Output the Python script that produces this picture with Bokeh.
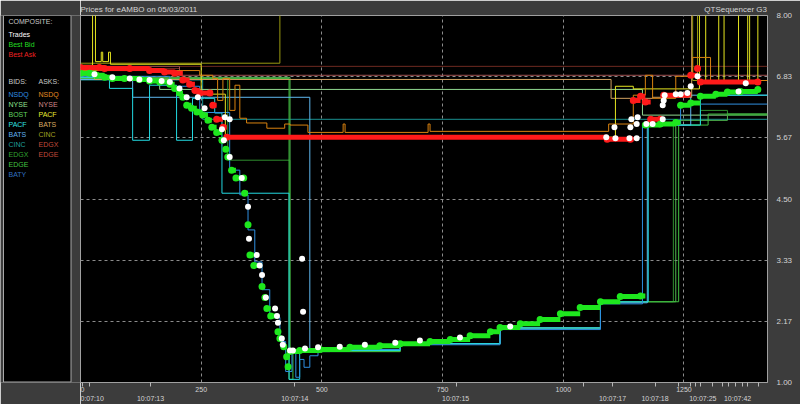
from bokeh.plotting import figure
from bokeh.layouts import row
from bokeh.models import Range1d, FixedTicker, LinearAxis, PrintfTickFormatter
from bokeh.core.properties import value
from bokeh.embed import file_html
from bokeh.resources import INLINE

BG = "#3c3c3c"
FONT = "Liberation Sans"
TXT = "#d4d4d4"

# ---------------- data (x = quote index, y = price) ----------------
bid_x = [0, 19, 33, 50, 66, 91, 122, 143, 164, 185, 195, 205, 212, 220, 230, 241, 253, 264, 272, 282,
         293, 301, 305, 313, 322, 338, 340, 347, 351, 359, 376, 382, 386, 394, 409, 413, 421, 427, 430, 434,
         454, 496, 558, 620, 662, 724, 766, 807, 849, 869, 911, 952, 994, 1035, 1077, 1118, 1160, 1170, 1201, 1233,
         1243, 1264, 1284, 1316, 1340, 1367, 1403]
bid_y = [6.90, 6.90, 6.86, 6.82, 6.80, 6.80, 6.78, 6.75, 6.73, 6.69, 6.61, 6.52, 6.44, 6.29, 6.23, 6.16, 6.10, 6.00, 5.87, 5.77,
         5.62, 5.45, 5.30, 5.05, 4.90, 4.90, 4.61, 4.01, 3.43, 3.23, 2.83, 2.62, 2.41, 2.27, 1.97, 1.84, 1.68, 1.49, 1.30, 1.59,
         1.61, 1.63, 1.67, 1.70, 1.74, 1.78, 1.82, 1.89, 1.97, 2.05, 2.12, 2.20, 2.31, 2.43, 2.54, 2.64, 2.65, 5.91, 5.93, 5.96,
         6.29, 6.33, 6.46, 6.50, 6.54, 6.55, 6.59]

ask_x = [0, 39, 50, 102, 143, 174, 195, 212, 226, 237, 247, 268, 274, 282, 295, 303, 1091, 1139, 1145, 1160,
         1170, 1181, 1201, 1208, 1257, 1264, 1278, 1284, 1403]
ask_y = [7.01, 7.01, 6.99, 6.99, 6.95, 6.92, 6.90, 6.77, 6.69, 6.57, 6.52, 6.52, 6.29, 6.02, 5.87, 5.68, 5.64, 5.64, 6.38, 6.46,
         6.35, 6.02, 6.02, 6.48, 6.50, 6.86, 6.99, 6.73, 6.73]

trade_x = [29, 66, 102, 122, 143, 168, 185, 205, 220, 243, 257, 293, 297, 299, 309, 309, 334, 347, 349, 365,
           371, 376, 384, 403, 407, 409, 417, 419, 434, 440, 459, 461, 465, 492, 537, 589, 652, 703, 786, 890,
           1089, 1106, 1108, 1137, 1139, 1141, 1152, 1152, 1154, 1172, 1185, 1206, 1206, 1208, 1210, 1233, 1243, 1257, 1264, 1278,
           1363, 1378]
trade_y = [6.88, 6.82, 6.80, 6.78, 6.77, 6.75, 6.73, 6.61, 6.44, 6.44, 6.23, 5.83, 5.62, 6.06, 6.02, 5.30, 4.90, 4.35, 3.74, 3.43,
           3.23, 3.05, 2.62, 2.41, 2.27, 2.14, 1.84, 1.72, 1.61, 1.61, 3.36, 2.35, 1.65, 1.67, 1.68, 1.72, 1.76, 1.80, 1.86, 2.07,
           5.68, 5.87, 5.66, 5.66, 5.87, 6.02, 5.66, 5.93, 6.06, 5.93, 5.93, 6.02, 6.29, 6.38, 6.48, 6.50, 6.50, 6.52, 6.65, 6.84,
           6.55, 6.71]

# exchange quotes (step lines)
nsdq_bid_x = [0, 81, 185, 247, 309, 330, 347, 361, 376, 392, 413, 425, 438, 446, 454, 463, 475, 492, 517, 662, 869, 1077, 1164, 1243, 1423]
nsdq_bid_y = [6.84, 6.84, 6.65, 6.15, 5.05, 4.58, 3.91, 3.30, 2.77, 2.24, 1.78, 1.21, 1.59, 1.10, 1.44, 1.29, 1.51, 1.59, 1.63, 1.72, 2.01, 2.50, 5.91, 6.31, 6.31]
bats_bid_x = [0, 108, 475, 662, 869, 1077, 1174, 1264, 1423]
bats_bid_y = [6.78, 6.44, 1.63, 1.74, 2.04, 2.52, 5.91, 6.48, 6.48]
pacf_bid_x = [0, 60, 108, 143, 199, 232, 257, 278, 293, 432, 454, 662, 869, 1077, 1176, 1284, 1423]
pacf_bid_y = [6.82, 6.61, 5.62, 6.67, 5.62, 6.42, 6.42, 6.14, 4.61, 1.06, 1.61, 1.74, 2.04, 2.54, 5.91, 6.48, 6.48]
cinc_bid_x = [0, 253, 1423]
cinc_bid_y = [6.77, 6.02, 6.02]
edgx_bid_x = [0, 305, 434, 662, 869, 1077, 1228, 1284, 1340, 1423]
edgx_bid_y = [6.80, 5.24, 1.59, 1.74, 2.04, 2.54, 5.91, 6.19, 6.10, 6.10]
edge_bid_x = [0, 432, 440, 662, 869, 1077, 1239, 1300, 1423]
edge_bid_y = [6.80, 1.06, 1.59, 1.74, 2.04, 2.54, 5.91, 6.12, 6.12]
nyse_bid_x = [0, 164, 1164, 1423]
nyse_bid_y = [6.80, 6.59, 6.10, 6.10]
bost_bid_x = [0, 434, 662, 869, 1077, 1233, 1340, 1423]
bost_bid_y = [6.82, 1.59, 1.74, 2.04, 2.54, 6.00, 6.12, 6.12]

nsdq_ask_x = [0, 164, 247, 274, 284, 295, 309, 320, 330, 344, 386, 423, 434, 471, 544, 548, 720, 724, 1094, 1145,
              1170, 1185, 1233, 1268, 1305, 1423]
nsdq_ask_y = [6.95, 6.95, 6.86, 6.80, 6.38, 6.80, 6.19, 6.67, 6.04, 5.95, 5.85, 5.93, 5.91, 5.77, 5.93, 5.77, 5.93, 5.79, 5.93, 6.48,
              6.86, 6.42, 6.84, 7.20, 6.76, 6.76]
nyse_ask_x = [0, 205, 1423]
nyse_ask_y = [7.03, 6.86, 6.86]
edgx_ask_x = [0, 205, 1423]
edgx_ask_y = [6.99, 7.03, 7.03]
bats_ask_x = [0, 29, 1099, 1185, 1266, 1423]
bats_ask_y = [6.86, 6.78, 6.42, 6.44, 8.60, 8.60]
pacf_ask_x = [0, 25, 31, 43, 46, 58, 62, 250, 300, 1108, 1145, 1282, 1295, 1322, 1333, 1363, 1382, 1386, 1403, 1423]
pacf_ask_y = [7.05, 8.60, 7.12, 7.30, 7.12, 7.30, 7.07, 6.50, 5.68, 6.65, 6.60, 8.60, 6.76, 8.60, 6.76, 8.60, 6.76, 8.60, 6.76, 6.76]
cinc_ask_x = [0, 31, 413, 1268, 1278, 1423]
cinc_ask_y = [7.09, 7.09, 8.60, 6.76, 8.60, 8.60]

# axes
x_ticks = [0, 250, 500, 750, 1000, 1250]
y_ticks = [1.0, 2.1667, 3.3333, 4.5, 5.6667, 6.8333, 8.0]
time_idx = [24, 145, 444, 777, 1102, 1190, 1289, 1361]
time_labels = ["0:07:10", "10:07:13", "10:07:14", "10:07:15", "10:07:17", "10:07:18", "10:07:25", "10:07:42"]
marker_idx = [4, 19, 145, 444, 778, 1042, 1102, 1191, 1239, 1264, 1274, 1284, 1309, 1330, 1342, 1357, 1372, 1382, 1405]
head_idx = [117, 1357]
head_labels = ["Prices for  eAMBO  on  05/03/2011", "QTSequencer G3"]

# legend panel texts
comp_labels = ["Trades", "Best Bid", "Best Ask"]
comp_colors = ["#ffffff", "#22dd22", "#ee2222"]
bid_names = ["NSDQ", "NYSE", "BOST", "PACF", "BATS", "CINC", "EDGX", "EDGE", "BATY"]
bid_colors = ["#2f8fe0", "#8fe08f", "#5fd05f", "#30e0e0", "#5fb0ef", "#1f9f9f", "#30a030", "#40c040", "#3070c0"]
ask_names = ["NSDQ", "NYSE", "PACF", "BATS", "CINC", "EDGX", "EDGE"]
ask_colors = ["#e08a20", "#d08888", "#e8e830", "#d8a860", "#a0a020", "#c04a3a", "#c04a3a"]

# ---------------- main chart ----------------
p = figure(width=720, height=404, x_range=Range1d(0, 1423), y_range=Range1d(1, 8),
           y_axis_location="right", toolbar_location=None, output_backend="svg",
           min_border_left=0, min_border_right=33, min_border_top=15, min_border_bottom=22,
           background_fill_color="black", border_fill_color=BG, outline_line_color="#a0a0a0")

quotes = [
    (cinc_bid_x, cinc_bid_y, "#1a9090"),
    (nyse_bid_x, nyse_bid_y, "#90d890"),
    (bost_bid_x, bost_bid_y, "#50b850"),
    (edgx_bid_x, edgx_bid_y, "#2f8f2f"),
    (edge_bid_x, edge_bid_y, "#40c040"),
    (bats_bid_x, bats_bid_y, "#5fb8f0"),
    (pacf_bid_x, pacf_bid_y, "#22d8e0"),
    (nsdq_bid_x, nsdq_bid_y, "#2f8fe0"),
    (edgx_ask_x, edgx_ask_y, "#6e2a20"),
    (nyse_ask_x, nyse_ask_y, "#a05050"),
    (bats_ask_x, bats_ask_y, "#d0a060"),
    (cinc_ask_x, cinc_ask_y, "#9a9a10"),
    (pacf_ask_x, pacf_ask_y, "#e6e620"),
    (nsdq_ask_x, nsdq_ask_y, "#d9820f"),
]
for xs, ys, col in quotes:
    p.step(xs, ys, mode="after", line_color=col, line_width=1)

# best ask / best bid / trades
p.segment(x0=ask_x[:-1], y0=ask_y[:-1], x1=ask_x[1:], y1=ask_y[:-1], line_color="#ff1a1a", line_width=5)
p.scatter(ask_x, ask_y, size=7, fill_color="#ff1a1a", line_color=None)
p.segment(x0=bid_x[:-1], y0=bid_y[:-1], x1=bid_x[1:], y1=bid_y[:-1], line_color="#1ee81e", line_width=5)
p.scatter(bid_x, bid_y, size=7, fill_color="#1ee81e", line_color=None)
p.scatter(trade_x, trade_y, size=6, fill_color="white", line_color=None)

# grids
for g in (p.xgrid, p.ygrid):
    g.grid_line_color = "#8c8c8c"
    g.grid_line_dash = "3 3"
    g.grid_line_width = 1

# bottom index axis
ax = p.xaxis[0]
ax.ticker = FixedTicker(ticks=x_ticks, minor_ticks=marker_idx)
ax.axis_line_color = "#a0a0a0"
ax.major_tick_out = 0
ax.major_tick_in = 0
ax.minor_tick_out = 4
ax.minor_tick_in = 0
ax.minor_tick_line_color = "#b8b8b8"
ax.major_label_standoff = 0
ax.major_label_text_font_size = "7px"
ax.major_label_text_font = FONT
ax.major_label_text_color = TXT

def text_axis(ticks, labels, size, standoff):
    return LinearAxis(ticker=FixedTicker(ticks=ticks),
                      major_label_overrides=dict(zip(ticks, labels)),
                      axis_line_color=None, major_tick_line_color=None, minor_tick_line_color=None,
                      major_tick_out=0, major_tick_in=0, minor_tick_out=0, minor_tick_in=0,
                      major_label_standoff=standoff, major_label_text_font_size=size,
                      major_label_text_font=FONT, major_label_text_color=TXT)

p.add_layout(text_axis(time_idx, time_labels, "7px", 0), "below")
p.add_layout(text_axis(head_idx, head_labels, "8px", 2), "above")

# right price axis
yax = p.yaxis[0]
yax.ticker = FixedTicker(ticks=y_ticks)
yax.formatter = PrintfTickFormatter(format="%.2f")
yax.axis_line_color = None
yax.major_tick_out = 0
yax.major_tick_in = 0
yax.minor_tick_line_color = None
yax.major_label_standoff = 9
yax.major_label_text_font_size = "8px"
yax.major_label_text_font = FONT
yax.major_label_text_color = TXT

# ---------------- legend panel ----------------
leg = figure(width=80, height=404, x_range=Range1d(0, 80), y_range=Range1d(382, 15),
             x_axis_location=None, y_axis_location=None, toolbar_location=None, output_backend="svg",
             min_border=0, min_border_left=0, min_border_right=0, min_border_top=15, min_border_bottom=22,
             background_fill_color=BG, border_fill_color=BG, outline_line_color=None)
leg.grid.visible = False
leg.quad(left=[3], right=[70.5], top=[15], bottom=[381.5], fill_color="black", line_color="#a8a8a8", line_width=1)

def txt(xs, ys, labels, colors):
    leg.text(x=xs, y=ys, text=labels, text_color=colors, text_font=value(FONT),
             text_font_size="7px", text_baseline="middle", text_align="left")

txt([8], [21], ["COMPOSITE:"], ["#c8c8c8"])
txt([8, 8, 8], [34, 44, 54], comp_labels, comp_colors)
txt([8, 38], [81, 81], ["BIDS:", "ASKS:"], ["#c8c8c8", "#c8c8c8"])
row_y = [94, 104, 114, 124, 134, 144, 154, 164, 174]
txt([8] * len(bid_names), row_y[:len(bid_names)], bid_names, bid_colors)
txt([38] * len(ask_names), row_y[:len(ask_names)], ask_names, ask_colors)

layout = row(leg, p, spacing=0)
html = file_html(layout, INLINE)
html = html.replace("<body>", '<body style="background:%s">' % BG, 1)
open("out.html", "w").write(html)
